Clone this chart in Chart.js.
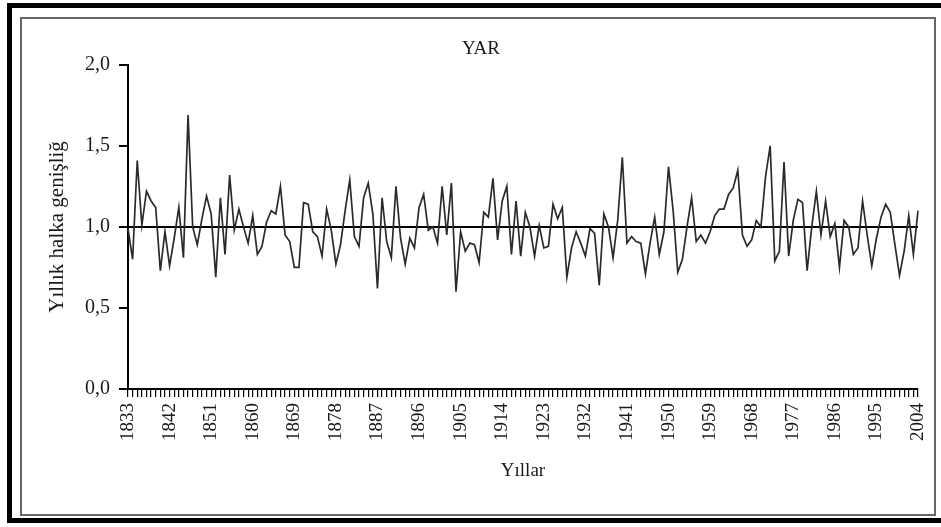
<!DOCTYPE html>
<html>
<head>
<meta charset="utf-8">
<script src="https://cdn.jsdelivr.net/npm/chart.js@4.4.1/dist/chart.umd.min.js"></script>
<style>
  html, body { margin: 0; padding: 0; background: #fff; overflow: hidden; }
  #wrap { position: relative; width: 941px; height: 527px; }
  .outer { position: absolute; left: 7px; top: 3px; width: 960px; height: 520px; border: 5px solid #000; box-sizing: border-box; }
  .inner { position: absolute; left: 20px; top: 17px; width: 916px; height: 499px; border: 2px solid #666; box-sizing: border-box; }
  canvas { position: absolute; left: 0; top: 0; }
</style>
</head>
<body>
<div id="wrap">
  <div class="outer"></div>
  <div class="inner"></div>
  <canvas id="myChart" width="941" height="527"></canvas>
</div>
<script>
// years on the x axis (one point per year)
const firstYear = 1833;
const lastYear = 2004;
const years = [];
for (let y = firstYear; y <= lastYear; y++) years.push(y);

// only these years get a label under the axis
const shownYears = [1833, 1842, 1851, 1860, 1869, 1878, 1887, 1896, 1905, 1914,
    1923, 1932, 1941, 1950, 1959, 1968, 1977, 1986, 1995, 2004];

// yearly ring width index
const ringWidth = [
    0.99, 0.80, 1.41, 1.01, 1.22, 1.16, 1.12, 0.73, 0.97, 0.76,
    0.93, 1.12, 0.81, 1.69, 1.00, 0.89, 1.05, 1.19, 1.08, 0.69,
    1.18, 0.83, 1.32, 0.98, 1.11, 1.00, 0.90, 1.07, 0.83,
    0.88, 1.03, 1.10, 1.08, 1.25, 0.95, 0.91, 0.75, 0.75, 1.15,
    1.14, 0.97, 0.94, 0.82, 1.11, 0.98, 0.77, 0.89, 1.10, 1.29,
    0.94, 0.88, 1.18, 1.27, 1.08, 0.62, 1.18, 0.91,
    0.81, 1.25, 0.93, 0.77, 0.93, 0.87, 1.12, 1.20, 0.98, 1.00,
    0.90, 1.25, 0.95, 1.27, 0.60, 0.97, 0.85, 0.90, 0.89, 0.78,
    1.09, 1.06, 1.30, 0.92, 1.16, 1.25, 0.83, 1.16,
    0.82, 1.09, 1.00, 0.82, 1.01, 0.87, 0.88, 1.14, 1.05, 1.12,
    0.69, 0.87, 0.97, 0.90, 0.82, 0.99, 0.96, 0.64, 1.08, 1.00,
    0.81, 1.04, 1.43, 0.90, 0.94, 0.91, 0.90, 0.71,
    0.90, 1.06, 0.83, 0.97, 1.37, 1.10, 0.72, 0.80, 1.00, 1.18,
    0.91, 0.95, 0.90, 0.97, 1.07, 1.11, 1.11, 1.20, 1.24, 1.35,
    0.95, 0.88, 0.92, 1.04, 1.00, 1.31, 1.50, 0.79,
    0.85, 1.40, 0.82, 1.04, 1.17, 1.15, 0.73, 1.00, 1.22, 0.95,
    1.16, 0.94, 1.02, 0.75, 1.04, 1.00, 0.83, 0.87, 1.16, 0.95,
    0.76, 0.93, 1.06, 1.14, 1.09, 0.89, 0.70, 0.85, 1.07, 0.83,
    1.10
];

const yTicks = [0, 0.5, 1.0, 1.5, 2.0];
const refValue = 1.0; // horizontal reference line

Chart.defaults.font.family = "'Liberation Serif', 'DejaVu Serif', serif";
Chart.defaults.color = '#1a1a1a';

const ctx = document.getElementById('myChart').getContext('2d');
const myChart = new Chart(ctx, {
    type: 'line',
    data: {
        labels: years,
        datasets: [{
            label: 'YAR',
            data: ringWidth,
            borderColor: '#2a2a2a',
            borderWidth: 1.7,
            pointRadius: 0,
            tension: 0,
            fill: false,
        }],
    },
    options: {
        responsive: false,
        animation: false,
        devicePixelRatio: 1,
        layout: {
            padding: { left: 44, right: 23, top: 0, bottom: 41 },
        },
        plugins: {
            legend: { display: false },
            tooltip: { enabled: false },
            title: {
                display: true,
                text: 'YAR',
                color: '#1a1a1a',
                font: { size: 19, weight: 'normal' },
                padding: { top: 38, bottom: 4 },
            },
        },
        scales: {
            x: {
                type: 'category',
                offset: false,
                afterFit: s => { s.height = 97; s.paddingLeft = 0; s.paddingRight = 0; },
                grid: {
                    display: true,
                    drawOnChartArea: false,
                    drawTicks: true,
                    tickLength: 8,
                    color: '#000',
                    lineWidth: 1.2,
                },
                border: { display: true, color: '#000', width: 2 },
                ticks: {
                    autoSkip: false,
                    maxRotation: 90,
                    minRotation: 90,
                    padding: 6,
                    font: { size: 19 },
                    color: '#1a1a1a',
                    callback: function (value, index) {
                        const yr = years[index];
                        return shownYears.includes(yr) ? String(yr) : '';
                    },
                },
                title: {
                    display: true,
                    text: 'Yıllar',
                    color: '#1a1a1a',
                    font: { size: 19 },
                    padding: { top: 0, bottom: 4 },
                },
            },
            y: {
                min: 0,
                max: 2,
                afterFit: s => { s.width = 84; s.paddingTop = 0; s.paddingBottom = 0; },
                afterBuildTicks: s => { s.ticks = yTicks.map(v => ({ value: v })); },
                grid: {
                    display: true,
                    drawOnChartArea: true,
                    drawTicks: true,
                    tickLength: 9,
                    tickColor: '#000',
                    tickWidth: 2,
                    lineWidth: 2,
                    color: c => (c.tick && c.tick.value === refValue) ? '#000' : 'rgba(0,0,0,0)',
                },
                border: { display: true, color: '#000', width: 2 },
                ticks: {
                    padding: 9,
                    font: { size: 20 },
                    color: '#1a1a1a',
                    callback: v => v.toFixed(1).replace('.', ','),
                },
                title: {
                    display: true,
                    text: 'Yıllık halka genişliğ',
                    color: '#1a1a1a',
                    font: { size: 21 },
                    padding: { top: 1, bottom: 2 },
                },
            },
        },
    },
});
</script>
</body>
</html>
